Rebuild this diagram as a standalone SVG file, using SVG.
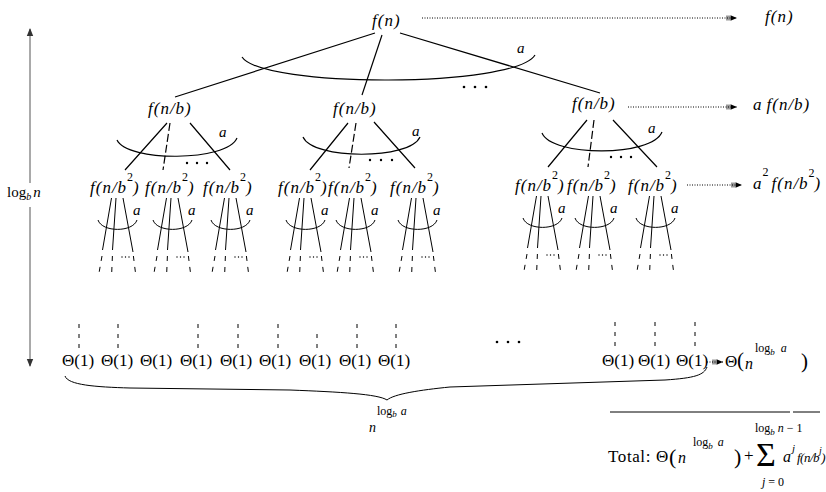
<svg xmlns="http://www.w3.org/2000/svg" xmlns:xlink="http://www.w3.org/1999/xlink" width="826" height="492" viewBox="0 0 826 492" font-family="'Liberation Serif', 'Times New Roman', serif">
  <style>
    text { fill: #000; font-family: "Liberation Serif", "Times New Roman", serif; }
    .it { font-style: italic; font-size: 17px; letter-spacing: 1px; }
    .lbl { font-style: italic; font-size: 15px; }
    .sup { font-style: normal; font-size: 12px; letter-spacing: 0; }
    .ln { stroke: #000; stroke-width: 1.2; fill: none; }
    .thin { stroke: #000; stroke-width: 1; fill: none; }
    .brk { stroke-dasharray: 8 3; }
    .tail { stroke: #000; stroke-width: 1; fill: none; stroke-dasharray: 5 6; }
    .tick { stroke: #000; stroke-width: 1; fill: none; stroke-dasharray: 4 6; }
    .dotted { stroke: #000; stroke-width: 1; fill: none; stroke-dasharray: 1 1.5; marker-end: url(#ah); }
    .axis { stroke: #555; stroke-width: 1; fill: none; }
  </style>
  <defs>
    <!-- arrowhead for the dotted "cost per level" connectors -->
    <marker id="ah" markerUnits="userSpaceOnUse" markerWidth="12" markerHeight="8" refX="11" refY="4" orient="auto">
      <path d="M1,1.5V6.5M3,1.5V6.5" stroke="#000" stroke-width="0.8"/>
      <path d="M4.5,1.2L11,4L4.5,6.8Z" fill="#000"/>
    </marker>
    <marker id="tip" markerUnits="userSpaceOnUse" markerWidth="8" markerHeight="10" refX="7" refY="4" orient="auto">
      <path d="M0,0.8L8,4L0,7.2Z" fill="#333"/>
    </marker>
    <!-- fan-out below a depth-2 node: three children, the "a" arc and dashed continuation -->
    <g id="fan">
      <path class="thin" d="M21.5,5L12.5,57M26,5L22.5,57M33,5L43,59"/>
      <path class="tail" d="M12,63L9,80M22.4,63L21.7,80M43.4,63L45.5,80"/>
      <path class="thin" d="M8,27C12,39.5 43,39.5 47,27"/>
      <text class="lbl" x="43" y="22">a</text>
      <circle cx="32" cy="64" r="0.7"/>
      <circle cx="35.5" cy="64" r="0.7"/>
      <circle cx="39" cy="64" r="0.7"/>
    </g>
  </defs>

  <!-- height axis: log_b n -->
  <g id="height">
    <path class="axis" d="M30,183V29" marker-end="url(#tip)"/>
    <path class="axis" d="M30,207V366" marker-end="url(#tip)"/>
    <text x="7" y="197" font-size="15">log<tspan font-size="10" font-style="italic" dy="3">b</tspan><tspan font-style="italic" dy="-3" dx="2">n</tspan></text>
  </g>

  <!-- tree edges and per-level cost connectors -->
  <g id="connectors">
    <path class="ln" d="M375,33L175,97M382,35L362,95M400,33L600,93"/>
    <path class="ln" d="M167,123L125,170M190,123L230,170"/>
    <path class="ln brk" d="M170,123L163,170"/>
    <path class="ln" d="M348,123L310,170M374,122L415,168"/>
    <path class="ln brk" d="M356,123L349,168"/>
    <path class="ln" d="M587,120L548,167M613,120L657,167"/>
    <path class="ln brk" d="M594,120L588,167"/>

    <path class="tick" d="M79,324V350M118,324V350M198,324V350M238,324V350M278,324V350M317,334V350M357,324V350M396,324V350"/>
    <path class="tick" d="M655,322V347M695,322V347"/>
    <path class="tick" d="M615,322V347" stroke-width="1.6"/>

    <path class="dotted" d="M422,18H737"/>
    <path class="dotted" d="M628,107H737"/>
    <path class="dotted" d="M687,185H742"/>
    <path class="dotted" d="M707,362H723"/>
  </g>

  <!-- depth 0 -->
  <g id="root">
    <text class="it" x="372" y="26">f(n)</text>
    <path class="ln" d="M242,57C262,88 515,88 535,55"/>
    <text class="lbl" x="517" y="53">a</text>
    <circle cx="464" cy="87" r="1.3"/>
    <circle cx="475" cy="87" r="1.3"/>
    <circle cx="486" cy="87" r="1.3"/>
  </g>

  <!-- depth 1 -->
  <g id="n1a">
    <text class="it" x="148" y="114">f(n/b)</text>
    <path class="ln" d="M117,140C127,162 227,162 237,138"/>
    <text class="lbl" x="219" y="137">a</text>
    <circle cx="187" cy="163" r="1.2"/>
    <circle cx="197" cy="163" r="1.2"/>
    <circle cx="207" cy="163" r="1.2"/>
  </g>
  <g id="n1b">
    <text class="it" x="333" y="114">f(n/b)</text>
    <path class="ln" d="M303,137C313,160 410,160 420,137"/>
    <text class="lbl" x="412" y="136">a</text>
    <circle cx="370" cy="160" r="1.2"/>
    <circle cx="381" cy="160" r="1.2"/>
    <circle cx="392" cy="160" r="1.2"/>
  </g>
  <g id="n1c">
    <text class="it" x="572" y="109">f(n/b)</text>
    <path class="ln" d="M542,133C552,157 652,157 662,132"/>
    <text class="lbl" x="648" y="133">a</text>
    <circle cx="611" cy="157" r="1.2"/>
    <circle cx="621" cy="157" r="1.2"/>
    <circle cx="631" cy="157" r="1.2"/>
  </g>

  <!-- depth 2 -->
  <g id="n2a"><text class="it" x="90" y="193">f(n/b<tspan class="sup" dy="-12">2</tspan><tspan dy="12">)</tspan></text><use xlink:href="#fan" href="#fan" x="90" y="193"/></g>
  <g id="n2b"><text class="it" x="145" y="193">f(n/b<tspan class="sup" dy="-12">2</tspan><tspan dy="12">)</tspan></text><use xlink:href="#fan" href="#fan" x="145" y="193"/></g>
  <g id="n2c"><text class="it" x="203" y="193">f(n/b<tspan class="sup" dy="-12">2</tspan><tspan dy="12">)</tspan></text><use xlink:href="#fan" href="#fan" x="203" y="193"/></g>
  <g id="n2d"><text class="it" x="278" y="193">f(n/b<tspan class="sup" dy="-12">2</tspan><tspan dy="12">)</tspan></text><use xlink:href="#fan" href="#fan" x="278" y="193"/></g>
  <g id="n2e"><text class="it" x="328" y="193">f(n/b<tspan class="sup" dy="-12">2</tspan><tspan dy="12">)</tspan></text><use xlink:href="#fan" href="#fan" x="328" y="193"/></g>
  <g id="n2f"><text class="it" x="390" y="193">f(n/b<tspan class="sup" dy="-12">2</tspan><tspan dy="12">)</tspan></text><use xlink:href="#fan" href="#fan" x="390" y="193"/></g>
  <g id="n2g"><text class="it" x="515" y="191">f(n/b<tspan class="sup" dy="-12">2</tspan><tspan dy="12">)</tspan></text><use xlink:href="#fan" href="#fan" x="515" y="191"/></g>
  <g id="n2h"><text class="it" x="567" y="191">f(n/b<tspan class="sup" dy="-12">2</tspan><tspan dy="12">)</tspan></text><use xlink:href="#fan" href="#fan" x="567" y="191"/></g>
  <g id="n2i"><text class="it" x="628" y="191">f(n/b<tspan class="sup" dy="-12">2</tspan><tspan dy="12">)</tspan></text><use xlink:href="#fan" href="#fan" x="628" y="191"/></g>

  <!-- leaves -->
  <g id="leaves" font-size="17">
    <text x="62" y="366">Θ(1)</text>
    <text x="101" y="366">Θ(1)</text>
    <text x="140" y="366">Θ(1)</text>
    <text x="180" y="366">Θ(1)</text>
    <text x="220" y="366">Θ(1)</text>
    <text x="259" y="366">Θ(1)</text>
    <text x="299" y="366">Θ(1)</text>
    <text x="339" y="366">Θ(1)</text>
    <text x="378" y="366">Θ(1)</text>
    <text x="602" y="366">Θ(1)</text>
    <text x="638" y="366">Θ(1)</text>
    <text x="676" y="366">Θ(1)</text>
    <circle cx="497" cy="342" r="1.3"/>
    <circle cx="508" cy="342" r="1.3"/>
    <circle cx="519" cy="342" r="1.3"/>
  </g>

  <!-- brace under the leaves: n^(log_b a) leaves -->
  <g id="leafcount">
    <path class="thin" d="M65,376C68,385 95,387 130,388L290,390C340,392 378,394 387,400C394,394 420,390 450,387L665,380C695,378 704,375 707,367"/>
    <text x="377" y="415" font-size="12">log<tspan font-size="9" font-style="italic" dy="2">b</tspan><tspan font-style="italic" dy="-2" dx="4">a</tspan></text>
    <text x="369" y="432" font-size="14" font-style="italic">n</text>
  </g>

  <!-- per-level costs -->
  <g id="costs">
    <text class="it" x="765" y="22">f(n)</text>
    <text class="it" x="753" y="110">a<tspan dx="4">f(n/b)</tspan></text>
    <text class="it" x="753" y="189">a<tspan class="sup" dy="-13">2</tspan><tspan dx="3" dy="13">f(n/b</tspan><tspan class="sup" dy="-12">2</tspan><tspan dy="12">)</tspan></text>
    <text x="725" y="367" font-size="17">Θ</text>
    <text x="737" y="367" font-size="21">(</text>
    <text x="745" y="369" font-size="16" font-style="italic">n</text>
    <text x="755" y="352" font-size="12">log<tspan font-size="9" font-style="italic" dy="3">b</tspan><tspan font-style="italic" dy="-3" dx="6">a</tspan></text>
    <text x="801" y="368" font-size="21">)</text>
  </g>

  <!-- total -->
  <g id="total">
    <path class="thin" d="M610,412H790M793,412H820"/>
    <text x="608" y="462" font-size="17" letter-spacing="0.6">Total:</text>
    <text x="656" y="462" font-size="17">Θ</text>
    <text x="669" y="464" font-size="22">(</text>
    <text x="678" y="463" font-size="16" font-style="italic">n</text>
    <text x="693" y="446" font-size="12">log<tspan font-size="9" font-style="italic" dy="3">b</tspan><tspan font-style="italic" dy="-3" dx="5">a</tspan></text>
    <text x="734" y="464" font-size="22">)</text>
    <text x="744" y="461" font-size="17">+</text>
    <text x="756" y="466" font-size="34">Σ</text>
    <text x="755" y="432" font-size="12">log<tspan font-size="9" font-style="italic" dy="3">b</tspan><tspan font-style="italic" dy="-3" dx="3">n</tspan> − 1</text>
    <text x="762" y="486" font-size="12"><tspan font-style="italic">j</tspan> = 0</text>
    <text x="783" y="462" font-size="16" font-style="italic">a</text>
    <text x="792" y="452" font-size="11" font-style="italic">j</text>
    <text x="797" y="462" font-size="13" font-style="italic" letter-spacing="-0.5">f(n/b<tspan font-size="10" dy="-8">j</tspan><tspan dy="8">)</tspan></text>
  </g>
</svg>
